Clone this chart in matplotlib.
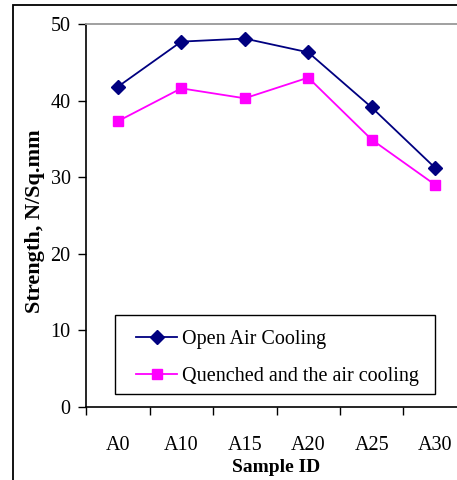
import matplotlib
matplotlib.use("Agg")
import matplotlib.pyplot as plt
from matplotlib.patches import Rectangle

categories = ["A0", "A10", "A15", "A20", "A25", "A30"]
open_air = [41.8, 47.7, 48.1, 46.3, 39.1, 31.2]
quenched = [37.3, 41.6, 40.3, 43.0, 34.9, 29.0]
yticks = [0, 10, 20, 30, 40, 50]

plt.rcParams['font.family'] = ['Liberation Serif', 'DejaVu Serif']

W, H = 457, 480
fig = plt.figure(figsize=(W/100, H/100), dpi=100)
fig.patch.set_facecolor('white')

# outer chart frame
fig.patches.append(Rectangle((13/W, -0.1), 1.2, 1 - 5/H + 0.1, transform=fig.transFigure,
                             fill=False, edgecolor='black', linewidth=1.3))

left, right, top, bottom = 86, 467, 24, 407
ax = fig.add_axes([left/W, 1 - bottom/H, (right-left)/W, (bottom-top)/H])
x = list(range(len(categories)))
ax.plot(x, open_air, color='#000080', marker='D', markersize=7, linewidth=1.3,
        label='Open Air Cooling')
ax.plot(x, quenched, color='#FF00FF', marker='s', markersize=7.5, linewidth=1.3,
        label='Quenched and the air cooling')

ax.set_xlim(-0.5, len(categories) - 0.5)
ax.set_ylim(0, 50)
ax.set_yticks(yticks)
ax.set_yticklabels([str(v) for v in yticks], fontsize=14.5)
ax.set_xticks([i - 0.5 for i in range(len(categories))])
ax.set_xticklabels([])
ax.set_xticks(x, minor=True)
ax.set_xticklabels(categories, minor=True, fontsize=14.5)
ax.tick_params(axis='x', which='minor', length=0, pad=21)
ax.tick_params(axis='x', which='major', length=6, width=1, direction='out')
ax.tick_params(axis='y', length=6, width=1, direction='out', pad=5)

ax.spines['top'].set_color('#999999')
ax.spines['top'].set_linewidth(1.3)
ax.spines['right'].set_visible(False)
ax.spines['left'].set_linewidth(1.2)
ax.spines['bottom'].set_linewidth(1.2)

def ax_frac(px, py):
    return ((px - left) / (right - left), (bottom - py) / (bottom - top))

ax.set_ylabel('Strength, N/Sq.mm', fontsize=16, fontweight='bold')
ax.yaxis.set_label_coords(*ax_frac(45, 221))
ax.set_xlabel('Sample ID', fontsize=14, fontweight='bold', labelpad=2.5)

# legend frame
fx0, fy0 = ax_frac(115, 394)
fx1, fy1 = ax_frac(435, 315)
ax.add_patch(Rectangle((fx0, fy0), fx1 - fx0, fy1 - fy0, transform=ax.transAxes,
                       facecolor='white', edgecolor='black', linewidth=1.0, zorder=4))

leg = ax.legend(loc='upper left', bbox_to_anchor=ax_frac(136, 330),
                frameon=False, borderpad=0, borderaxespad=0, fontsize=14.5,
                handlelength=2.05, handletextpad=0.25, labelspacing=0.9)
leg.set_zorder(5)

fig.savefig('out.png', dpi=100)
